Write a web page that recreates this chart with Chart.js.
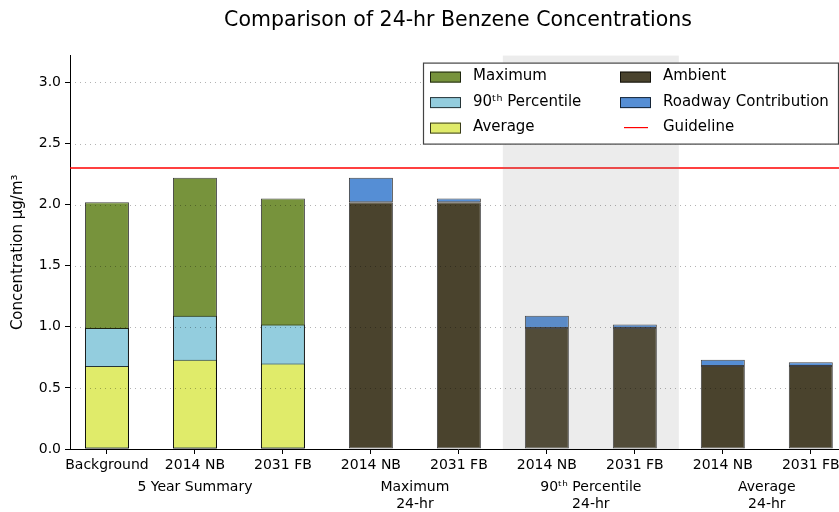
<!DOCTYPE html>
<html><head><meta charset="utf-8">
<script src="https://cdn.jsdelivr.net/npm/chart.js@4"></script>
<style>html,body{margin:0;padding:0;background:#fff;overflow:hidden;width:839px;height:512px}
#wrap{width:850px;height:512px}</style></head>
<body><div id="wrap"><canvas id="c" width="850" height="512"></canvas></div>
<script>
// ---- data ----
const categories = ['Background', '2014 NB', '2031 FB', '2014 NB', '2031 FB', '2014 NB', '2031 FB', '2014 NB', '2031 FB'];
const groupLabels = ['5 Year Summary', ['Maximum', '24-hr'], ['90ᵗʰ Percentile', '24-hr'], ['Average', '24-hr']];
const groupPositions = [1, 3.5, 5.5, 7.5];
const summaryIndex = [0, 1, 2];
const summaryAverage = [0.68, 0.73, 0.70];
const summaryPercentile90 = [0.99, 1.09, 1.02];
const summaryMaximum = [2.02, 2.22, 2.05];
const scenarioIndex = [3, 4, 5, 6, 7, 8];
const ambient = [2.02, 2.02, 0.99, 0.99, 0.68, 0.68];
const roadwayContribution = [0.20, 0.03, 0.10, 0.03, 0.05, 0.03];
const guidelineValue = 2.3;
const shadedGroup = [4.5, 6.5];
const legendOrder = ['Maximum', '90ᵗʰ Percentile', 'Average', 'Ambient', 'Roadway Contribution', 'Guideline'];

// ---- axis limits ----
const X_MIN = -0.42, X_MAX = 8.4, Y_MAX = 3.22, Y_STEP = 0.5;

const pts = (xs, ys) => xs.map((x, i) => ({x: x, y: ys[i]}));
const FONT = 'DejaVu Sans';
Chart.defaults.font.family = FONT;
Chart.defaults.color = '#000';

const edge = 'rgba(0,0,0,0.75)';
const barCommon = {grouped: false, barPercentage: 0.5, categoryPercentage: 1.0, borderWidth: 1, borderColor: edge, borderSkipped: false};

const datasets = [
  Object.assign({label: 'Average', data: pts(summaryIndex, summaryAverage), backgroundColor: '#e0eb6a', stack: 'avg'}, barCommon),
  Object.assign({label: '90ᵗʰ Percentile', data: pts(summaryIndex, summaryPercentile90), backgroundColor: '#93cdde', stack: 'p90'}, barCommon),
  Object.assign({label: 'Maximum', data: pts(summaryIndex, summaryMaximum), backgroundColor: '#77933c', stack: 'max'}, barCommon),
  Object.assign({label: 'Ambient', data: pts(scenarioIndex, ambient), backgroundColor: '#4a432d', stack: 'road'}, barCommon),
  Object.assign({label: 'Roadway Contribution', data: pts(scenarioIndex, roadwayContribution), backgroundColor: '#558ed5', stack: 'road'}, barCommon),
  {type: 'line', label: 'Guideline', data: [{x: X_MIN, y: guidelineValue}, {x: X_MAX, y: guidelineValue}],
   borderColor: '#ff0000', borderWidth: 1.5, pointRadius: 0, stack: 'guide', order: -1}
];

const overlayPlugin = {
  id: 'overlay',
  afterDatasetsDraw(chart) {
    const {ctx, chartArea: a, scales: {x, y}} = chart;
    ctx.save();
    const x0 = x.getPixelForValue(shadedGroup[0]), x1 = x.getPixelForValue(shadedGroup[1]);
    ctx.fillStyle = 'rgba(128,128,128,0.15)';
    ctx.fillRect(x0, a.top, x1 - x0, a.bottom - a.top);
    ctx.strokeStyle = 'rgba(0,0,0,0.3)';
    ctx.lineWidth = 1;
    ctx.setLineDash([1, 4]);
    y.ticks.forEach(t => {
      if (t.value === 0) return;
      const py = Math.round(y.getPixelForValue(t.value)) + 0.5;
      ctx.beginPath(); ctx.moveTo(a.left, py); ctx.lineTo(a.right, py); ctx.stroke();
    });
    ctx.restore();
  }
};

const legendPlugin = {
  id: 'boxLegend',
  afterDraw(chart) {
    const {ctx, chartArea: a} = chart;
    const ds = chart.data.datasets;
    const right = a.right - 7, top = a.top + 7, left = right - 416, bottom = top + 82;
    ctx.save();
    ctx.fillStyle = '#fff';
    ctx.fillRect(left, top, right - left, bottom - top);
    ctx.strokeStyle = '#444'; ctx.lineWidth = 1.2;
    ctx.strokeRect(left + 0.5, top + 0.5, right - left - 1, bottom - top - 1);
    ctx.font = '15px "' + FONT + '"';
    ctx.textBaseline = 'middle'; ctx.textAlign = 'left';
    legendOrder.forEach((lab, i) => {
      const d = ds.find(s => s.label === lab);
      const col = Math.floor(i / 3), row = i % 3;
      const px = left + 7 + col * 190, py = top + 14 + row * 25.5;
      if (d.type === 'line') {
        ctx.strokeStyle = d.borderColor; ctx.lineWidth = 1.2;
        ctx.beginPath(); ctx.moveTo(px + 4, py); ctx.lineTo(px + 28, py); ctx.stroke();
      } else {
        ctx.fillStyle = d.backgroundColor; ctx.fillRect(px, py - 5, 31, 11);
        ctx.strokeStyle = edge; ctx.lineWidth = 1; ctx.strokeRect(px + 0.5, py - 4.5, 30, 10);
      }
      ctx.fillStyle = '#000';
      ctx.fillText(lab, px + 43, py);
    });
    ctx.restore();
  }
};

new Chart(document.getElementById('c'), {
  type: 'bar',
  data: {datasets: datasets},
  plugins: [overlayPlugin, legendPlugin],
  options: {
    responsive: false, animation: false,
    layout: {padding: {left: 0, right: 4, top: 0, bottom: 0}},
    plugins: {
      legend: {display: false}, tooltip: {enabled: false},
      title: {display: true, fullSize: false, text: 'Comparison of 24-hr Benzene Concentrations', color: '#000',
              font: {size: 20.5, weight: 'normal'}, padding: {top: 8, bottom: 23}}
    },
    scales: {
      x: {
        type: 'linear', min: X_MIN, max: X_MAX, offset: false, weight: 0,
        afterBuildTicks: s => { s.ticks = categories.map((_, i) => ({value: i})); },
        afterFit: s => { s.height = 26; },
        ticks: {autoSkip: false, maxRotation: 0, padding: 3, font: {size: 14},
                callback: (v, i) => categories[i]},
        grid: {offset: false, drawOnChartArea: false, color: '#000', tickLength: 5},
        border: {display: true, color: '#000', width: 1}
      },
      x2: {
        type: 'linear', position: 'bottom', min: X_MIN, max: X_MAX, offset: false, weight: 1,
        afterBuildTicks: s => { s.ticks = groupPositions.map(v => ({value: v})); },
        afterFit: s => { s.height = 37; },
        ticks: {autoSkip: false, maxRotation: 0, padding: 4, font: {size: 14},
                callback: (v, i) => groupLabels[i]},
        grid: {display: false, drawTicks: false},
        border: {display: false}
      },
      y: {
        min: 0, max: Y_MAX, stacked: true,
        afterBuildTicks: s => { s.ticks = s.ticks.filter(t => Math.abs(t.value / Y_STEP - Math.round(t.value / Y_STEP)) < 1e-6); },
        afterFit: s => { s.width = 70; },
        ticks: {stepSize: Y_STEP, padding: 4, font: {size: 14}, callback: v => v.toFixed(1)},
        grid: {drawOnChartArea: false, color: '#000', tickLength: 5},
        border: {display: true, color: '#000', width: 1},
        title: {display: true, text: 'Concentration µg/m³', font: {size: 15}, padding: {top: 9, bottom: 0}}
      }
    }
  }
});
</script>
</body></html>
